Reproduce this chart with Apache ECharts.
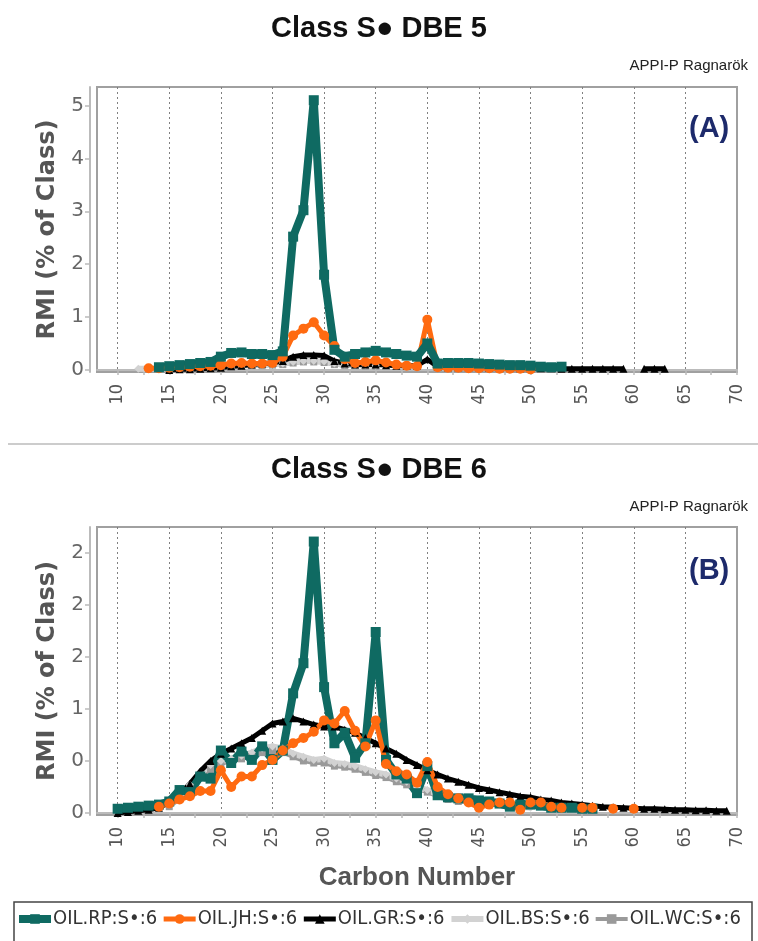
<!DOCTYPE html>
<html>
<head>
<meta charset="utf-8">
<title>Class S• DBE 5 / DBE 6</title>
<script src="https://cdn.jsdelivr.net/npm/echarts@6.0.0/dist/echarts.min.js"></script>
<style>
html, body { margin: 0; padding: 0; background: #fff; }
#chart { width: 758px; height: 941px; }
</style>
</head>
<body>
<div id="chart"></div>
<script>
// carbon numbers, one entry per value in the series below
const carbon = [10, 11, 12, 13, 14, 15, 16, 17, 18, 19,
  20, 21, 22, 23, 24, 25, 26, 27, 28, 29,
  30, 31, 32, 33, 34, 35, 36, 37, 38, 39,
  40, 41, 42, 43, 44, 45, 46, 47, 48, 49,
  50, 51, 52, 53, 54, 55, 56, 57, 58, 59,
  60, 61, 62, 63, 64, 65, 66, 67, 68, 69];

// axis ticks and labels
const xTicks = [10, 12.5, 15, 17.5, 20, 22.5, 25, 27.5, 30, 32.5, 35, 37.5, 40, 42.5,
  45, 47.5, 50, 52.5, 55, 57.5, 60, 62.5, 65, 67.5, 70];
const xLabels = [10, 15, 20, 25, 30, 35, 40, 45, 50, 55, 60, 65, 70];
const xGridLines = [10, 15, 20, 25, 30, 35, 40, 45, 50, 55, 60, 65];
const yTicksA = [0, 1, 2, 3, 4, 5];
const yLabelsA = ['0', '1', '2', '3', '4', '5'];
const yTicksB = [0, 0.5, 1, 1.5, 2, 2.5];
const yLabelsB = ['0', '0', '1', '2', '2', '2'];

// (A) DBE 5
const rpA = [null, null, null, null, 0.05, 0.07, 0.09, 0.11, 0.13, 0.15,
  0.25, 0.32, 0.33, 0.3, 0.3, 0.28, 0.35, 2.52, 3.02, 5.1,
  1.8, 0.38, 0.25, 0.3, 0.33, 0.36, 0.33, 0.3, 0.27, 0.25,
  0.5, 0.12, 0.13, 0.13, 0.13, 0.12, 0.11, 0.1, 0.09, 0.09,
  0.08, 0.06, 0.05, 0.06, null, null, null, null, null, null,
  null, null, null, null, null, null, null, null, null, null];
const jhA = [null, null, null, 0.03, 0.03, 0.04, 0.05, 0.06, 0.07, 0.08,
  0.09, 0.12, 0.13, 0.12, 0.12, 0.13, 0.25, 0.65, 0.78, 0.9,
  0.65, 0.45, 0.2, 0.13, 0.15, 0.18, 0.14, 0.1, 0.08, 0.07,
  0.95, 0.05, 0.04, 0.04, 0.03, 0.03, 0.03, 0.02, 0.02, 0.02,
  0.01, null, null, null, null, null, null, null, null, null,
  null, null, null, null, null, null, null, null, null, null];
const grA = [null, null, null, null, null, 0.0, 0.01, 0.01, 0.02, 0.03,
  0.04, 0.07, 0.08, 0.1, 0.12, 0.13, 0.17, 0.25, 0.28, 0.28,
  0.27, 0.17, 0.12, 0.1, 0.1, 0.1, 0.09, 0.08, 0.08, 0.08,
  0.2, 0.06, 0.05, 0.05, 0.05, 0.05, 0.04, 0.04, 0.04, 0.03,
  0.03, 0.03, 0.03, 0.02, 0.02, 0.02, 0.02, 0.02, 0.02, 0.02,
  null, 0.02, 0.02, 0.02, null, null, null, null, null, null];
const bsA = [null, null, 0.02, 0.02, 0.02, 0.03, 0.03, 0.04, 0.05, 0.05,
  0.06, 0.07, 0.08, 0.09, 0.1, 0.1, 0.12, 0.15, 0.17, 0.17,
  0.16, 0.12, 0.1, 0.09, 0.09, 0.08, null, null, null, null,
  null, null, null, null, null, null, null, null, null, null,
  null, null, null, null, null, null, null, null, null, null,
  null, null, null, null, null, null, null, null, null, null];
const wcA = [null, null, null, 0.01, 0.01, 0.02, 0.02, 0.03, 0.04, 0.04,
  0.05, 0.06, 0.07, 0.08, 0.08, 0.09, 0.1, 0.13, 0.15, 0.15,
  0.14, 0.1, 0.08, 0.08, 0.07, 0.07, null, null, null, null,
  null, null, null, null, null, null, null, null, null, null,
  null, null, null, null, null, null, null, null, null, null,
  null, null, null, null, null, null, null, null, null, null];

// (B) DBE 6
const rpB = [0.04, 0.05, 0.06, 0.07, 0.08, 0.11, 0.22, 0.2, 0.35, 0.33,
  0.6, 0.48, 0.59, 0.51, 0.64, 0.51, 0.6, 1.15, 1.44, 2.61,
  1.21, 0.67, 0.77, 0.53, 0.67, 1.74, 0.51, 0.37, 0.33, 0.19,
  0.45, 0.17, 0.15, 0.14, 0.14, 0.12, 0.11, 0.09, 0.06, 0.08,
  0.08, 0.07, 0.05, 0.05, 0.05, 0.04, 0.04, null, null, null,
  null, null, null, null, null, null, null, null, null, null];
const jhB = [null, null, null, null, 0.06, 0.09, 0.13, 0.16, 0.21, 0.21,
  0.41, 0.25, 0.35, 0.35, 0.46, 0.51, 0.6, 0.67, 0.72, 0.78,
  0.89, 0.86, 0.98, 0.79, 0.64, 0.89, 0.47, 0.4, 0.37, 0.29,
  0.49, 0.25, 0.18, 0.14, 0.1, 0.05, 0.08, 0.1, 0.1, 0.03,
  0.1, 0.1, 0.06, 0.05, null, 0.05, 0.05, null, 0.04, null,
  0.04, null, null, null, null, null, null, null, null, null];
const grB = [0.0, 0.01, 0.02, 0.03, 0.05, 0.1, 0.18, 0.28, 0.4, 0.5,
  0.57, 0.62, 0.67, 0.72, 0.79, 0.86, 0.88, 0.91, 0.88, 0.85,
  0.83, 0.83, 0.8, 0.77, 0.72, 0.67, 0.62, 0.57, 0.51, 0.46,
  0.41, 0.37, 0.33, 0.3, 0.27, 0.24, 0.22, 0.2, 0.18, 0.16,
  0.15, 0.13, 0.12, 0.1, 0.09, 0.08, 0.07, 0.06, 0.055, 0.05,
  0.045, 0.04, 0.04, 0.035, 0.03, 0.03, 0.025, 0.025, 0.02, 0.02];
const bsB = [null, null, null, null, null, 0.08, 0.15, 0.27, 0.38, 0.46,
  0.5, 0.52, 0.55, 0.58, 0.62, 0.64, 0.62, 0.57, 0.54, 0.51,
  0.52, 0.48, 0.47, 0.45, 0.42, 0.39, 0.37, 0.33, 0.3, 0.25,
  0.22, 0.18, 0.15, 0.13, 0.11, 0.1, 0.09, 0.08, 0.07, 0.06,
  0.05, null, null, null, null, null, null, null, null, null,
  null, null, null, null, null, null, null, null, null, null];
const wcB = [null, null, null, null, null, 0.06, 0.13, 0.25, 0.35, 0.42,
  0.47, 0.5, 0.52, 0.55, 0.58, 0.6, 0.58, 0.54, 0.5, 0.48,
  0.48, 0.45, 0.44, 0.42, 0.39, 0.36, 0.34, 0.3, 0.27, 0.23,
  0.2, 0.16, 0.13, 0.11, 0.1, 0.09, null, null, null, null,
  null, null, null, null, null, null, null, null, null, null,
  null, null, null, null, null, null, null, null, null, null];

const names = ['OIL.RP:S•:6', 'OIL.JH:S•:6', 'OIL.GR:S•:6', 'OIL.BS:S•:6', 'OIL.WC:S•:6'];

const looks = {
  'OIL.RP:S•:6': { color: '#0f6a62', symbol: 'rect', size: 10, width: 8 },
  'OIL.JH:S•:6': { color: '#ff6a10', symbol: 'circle', size: 10, width: 5 },
  'OIL.GR:S•:6': { color: '#000000', symbol: 'triangle', size: 8, width: 5 },
  'OIL.BS:S•:6': { color: '#d2d2d2', symbol: 'diamond', size: 8, width: 6 },
  'OIL.WC:S•:6': { color: '#9a9a9a', symbol: 'rect', size: 7, width: 4 },
};

function line(name, values, axisIndex) {
  const l = looks[name];
  return {
    name: name,
    type: 'line',
    xAxisIndex: axisIndex * 2,
    yAxisIndex: axisIndex,
    data: carbon.map((c, i) => [c, values[i]]),
    symbol: l.symbol,
    symbolSize: l.size,
    showAllSymbol: true,
    connectNulls: false,
    color: l.color,
    lineStyle: { color: l.color, width: l.width },
    itemStyle: { color: l.color },
  };
}

const frame = { show: true, borderColor: '#a0a0a0', borderWidth: 2, backgroundColor: 'transparent' };
const labelFont = 'DejaVu Sans';
const narrowFont = '"DejaVu Sans Condensed", "DejaVu Sans", sans-serif';

function mainX(grid, withName) {
  return {
    type: 'value',
    gridIndex: grid,
    min: 8,
    max: 70,
    position: 'bottom',
    offset: 6,
    name: withName ? 'Carbon Number' : '',
    nameLocation: 'middle',
    nameGap: 44,
    nameTextStyle: { fontFamily: 'Liberation Sans', fontWeight: 'bold', fontSize: 26, color: '#555' },
    axisLine: { show: true, lineStyle: { color: '#bbbbbb', width: 2 } },
    axisTick: { show: true, length: 5, customValues: xTicks, lineStyle: { color: '#bbbbbb', width: 1.5 } },
    axisLabel: { customValues: xLabels, rotate: 90, margin: 6, fontSize: 18, fontFamily: narrowFont, color: '#555' },
    splitLine: { show: false },
  };
}

function gridLinesX(grid) {
  return {
    type: 'value',
    gridIndex: grid,
    min: 8,
    max: 70,
    position: 'top',
    axisLine: { show: false },
    axisTick: { show: false, customValues: xGridLines },
    axisLabel: { show: false },
    splitLine: { show: true, lineStyle: { color: '#808080', width: 1, type: [2, 3] } },
  };
}

function mainY(grid, min, max, ticks, labels) {
  return {
    type: 'value',
    gridIndex: grid,
    min: min,
    max: max,
    offset: 7,
    name: 'RMI (% of Class)',
    nameLocation: 'middle',
    nameGap: 30,
    nameTextStyle: { fontFamily: labelFont, fontWeight: 'bold', fontSize: 24, color: '#555' },
    axisLine: { show: true, lineStyle: { color: '#bbbbbb', width: 2 } },
    axisTick: { show: true, length: 5, customValues: ticks, lineStyle: { color: '#bbbbbb', width: 1.5 } },
    axisLabel: {
      customValues: ticks,
      margin: 6,
      fontSize: 20,
      fontFamily: labelFont,
      color: '#666',
      formatter: (v) => labels[ticks.indexOf(v)],
    },
    splitLine: { show: false },
  };
}

// drawing order per panel (later = on top)
const orderA = ['OIL.WC:S•:6', 'OIL.BS:S•:6', 'OIL.GR:S•:6', 'OIL.JH:S•:6', 'OIL.RP:S•:6'];
const orderB = ['OIL.WC:S•:6', 'OIL.BS:S•:6', 'OIL.GR:S•:6', 'OIL.RP:S•:6', 'OIL.JH:S•:6'];
const panelA = { 'OIL.RP:S•:6': rpA, 'OIL.JH:S•:6': jhA, 'OIL.GR:S•:6': grA, 'OIL.BS:S•:6': bsA, 'OIL.WC:S•:6': wcA };
const panelB = { 'OIL.RP:S•:6': rpB, 'OIL.JH:S•:6': jhB, 'OIL.GR:S•:6': grB, 'OIL.BS:S•:6': bsB, 'OIL.WC:S•:6': wcB };

const chart = echarts.init(document.getElementById('chart'));
chart.setOption({
  animation: false,
  backgroundColor: '#fff',
  title: [
    { text: 'Class S● DBE 5', left: 'center', top: 9, textStyle: { fontFamily: 'Liberation Sans', fontWeight: 'bold', fontSize: 29, color: '#111' } },
    { text: 'APPI-P Ragnarök', right: 5, top: 53, textStyle: { fontFamily: 'Liberation Sans', fontWeight: 'normal', fontSize: 15, color: '#222' } },
    { text: '(A)', left: 684, top: 109, textStyle: { fontFamily: 'Liberation Sans', fontWeight: 'bold', fontSize: 29, color: '#1d2a6b' } },
    { text: 'Class S● DBE 6', left: 'center', top: 450, textStyle: { fontFamily: 'Liberation Sans', fontWeight: 'bold', fontSize: 29, color: '#111' } },
    { text: 'APPI-P Ragnarök', right: 5, top: 494, textStyle: { fontFamily: 'Liberation Sans', fontWeight: 'normal', fontSize: 15, color: '#222' } },
    { text: '(B)', left: 684, top: 551, textStyle: { fontFamily: 'Liberation Sans', fontWeight: 'bold', fontSize: 29, color: '#1d2a6b' } },
  ],
  legend: {
    data: names.map((n) => ({ name: n, lineStyle: { width: looks[n].width } })),
    top: 909,
    left: 15,
    padding: 0,
    itemGap: 4,
    itemWidth: 32,
    itemHeight: 12,
    textStyle: { fontFamily: narrowFont, fontSize: 20, color: '#333', padding: [0, 0, 0, -3] },
  },
  graphic: [
    { type: 'line', shape: { x1: 8, y1: 444, x2: 758, y2: 444 }, style: { stroke: '#bbbbbb', lineWidth: 1.5 } },
    { type: 'rect', shape: { x: 14, y: 902, width: 738, height: 60 }, style: { fill: 'none', stroke: '#444', lineWidth: 1.5 } },
  ],
  grid: [
    Object.assign({ left: 97, right: 21, top: 87, height: 285 }, frame),
    Object.assign({ left: 97, right: 21, top: 527, height: 288 }, frame),
  ],
  xAxis: [mainX(0, false), gridLinesX(0), mainX(1, true), gridLinesX(1)],
  yAxis: [
    mainY(0, -0.04, 5.35, yTicksA, yLabelsA),
    mainY(1, -0.02, 2.75, yTicksB, yLabelsB),
  ],
  series: orderA.map((n) => line(n, panelA[n], 0)).concat(orderB.map((n) => line(n, panelB[n], 1))),
});
</script>
</body>
</html>
